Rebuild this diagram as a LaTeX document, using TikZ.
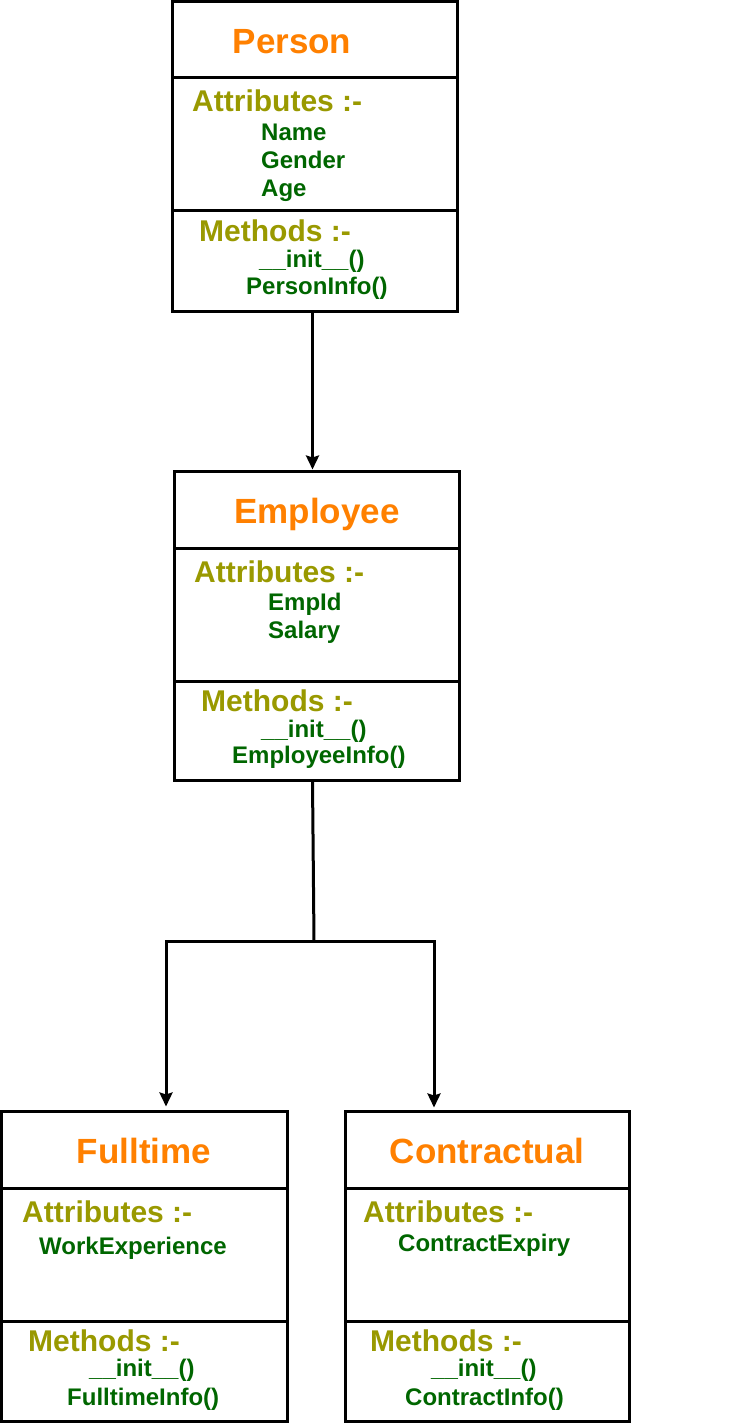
\documentclass[tikz,border=0pt]{standalone}
\usepackage{fontspec}
\setmainfont{Liberation Sans}
\usepackage{tikz}
\definecolor{classorange}{HTML}{FF8000}
\definecolor{headolive}{HTML}{999900}
\definecolor{itemgreen}{HTML}{006600}
\usetikzlibrary{positioning, arrows.meta, shapes}
\tikzstyle{arrow} = [line width=3pt,->,>={Stealth[length=14pt,width=13pt,inset=2pt]}]

\begin{document}
\begin{tikzpicture}[x=1pt,y=-1pt]
                    \tikzstyle{every node}=[inner sep=0pt]
                    \tikzstyle{part} = [rectangle, draw=black, line width=3pt, minimum width=285pt]
                    \tikzstyle{title} = [font=\fontsize{35}{35}\selectfont\bfseries, text=classorange, text height=25pt, text depth=0pt]
                    \tikzstyle{heading} = [anchor=west, font=\fontsize{30}{30}\selectfont\bfseries, text=headolive, text height=21.5pt, text depth=0pt]
                    \tikzstyle{item} = [anchor=west, font=\fontsize{24}{24}\selectfont\bfseries, text=itemgreen, text height=17pt, text depth=0pt]
                    \tikzstyle{line} = [line width=3pt]

                    \useasboundingbox (0,0) rectangle (755,1423);

                    % Person
                    \node[part, minimum height=76pt](ptitle) at (314.5,40) {};
                    \node[part, minimum height=133pt](pattr) at (314.5,144.5) {};
                    \node[part, minimum height=100pt](pmeth) at (314.5,261) {};
                    \node[title](pname) at (292,41) {Person};
                    \node[heading](pattrhead) at (192,101) {Attributes :-};
                    \node[item](pa1) at (261,132) {Name};
                    \node[item](pa2) at (261,160) {Gender};
                    \node[item](pa3) at (261,188) {Age};
                    \node[heading](pmethhead) at (199,231) {Methods :-};
                    \node[item](pm1) at (259,259) {\_\_init\_\_()};
                    \node[item](pm2) at (246,286) {PersonInfo()};

                    % Employee
                    \node[part, minimum height=77pt](etitle) at (316.5,509.5) {};
                    \node[part, minimum height=133pt](eattr) at (316.5,614.5) {};
                    \node[part, minimum height=99pt](emeth) at (316.5,730.5) {};
                    \node[title](ename) at (317,511) {Employee};
                    \node[heading](eattrhead) at (194,571.5) {Attributes :-};
                    \node[item](ea1) at (268,602) {EmpId};
                    \node[item](ea2) at (268,630) {Salary};
                    \node[heading](emethhead) at (201,700.5) {Methods :-};
                    \node[item](em1) at (261,729) {\_\_init\_\_()};
                    \node[item](em2) at (232,755) {EmployeeInfo()};

                    % Fulltime
                    \node[part, minimum width=286pt, minimum height=77pt](ftitle) at (144,1149.5) {};
                    \node[part, minimum width=286pt, minimum height=133pt](fattr) at (144,1254.5) {};
                    \node[part, minimum width=286pt, minimum height=100pt](fmeth) at (144,1371) {};
                    \node[title](fname) at (144,1151) {Fulltime};
                    \node[heading](fattrhead) at (22,1212) {Attributes :-};
                    \node[item](fa1) at (39,1246) {WorkExperience};
                    \node[heading](fmethhead) at (28,1341) {Methods :-};
                    \node[item](fm1) at (89,1368) {\_\_init\_\_()};
                    \node[item](fm2) at (67,1397) {FulltimeInfo()};

                    % Contractual
                    \node[part, minimum width=284pt, minimum height=77pt](ctitle) at (487,1149.5) {};
                    \node[part, minimum width=284pt, minimum height=133pt](cattr) at (487,1254.5) {};
                    \node[part, minimum width=284pt, minimum height=100pt](cmeth) at (487,1371) {};
                    \node[title](cname) at (487,1151) {Contractual};
                    \node[heading](cattrhead) at (363,1212) {Attributes :-};
                    \node[item](ca1) at (398,1243) {ContractExpiry};
                    \node[heading](cmethhead) at (370,1341) {Methods :-};
                    \node[item](cm1) at (431,1368) {\_\_init\_\_()};
                    \node[item](cm2) at (405,1397) {ContractInfo()};

                    % connectors
                    \coordinate (jmid) at (314,941);
                    \coordinate (jleft) at (166,941);
                    \coordinate (jright) at (434,941);
                    \draw[arrow] ([xshift=-2pt]pmeth.south) -- ([xshift=-2pt]pmeth.south |- etitle.north);
                    \draw[line] ([xshift=-4pt]emeth.south) -- (jmid);
                    \draw[line, line cap=rect] (jleft) -- (jright);
                    \draw[arrow] (jleft) -- ([yshift=3pt]jleft |- ftitle.north);
                    \draw[arrow] (jright) -- ([yshift=2pt]jright |- ctitle.north);
            \end{tikzpicture}
\end{document}
